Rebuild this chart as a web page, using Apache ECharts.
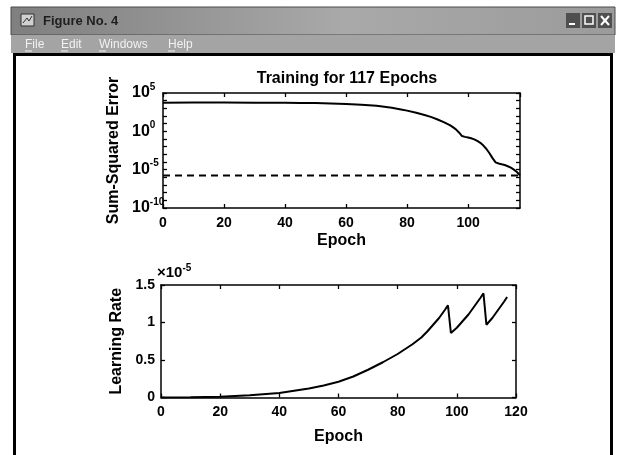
<!DOCTYPE html>
<html>
<head>
<meta charset="utf-8">
<script src="https://cdn.jsdelivr.net/npm/echarts@6/dist/echarts.min.js"></script>
<style>
  html, body { margin: 0; padding: 0; background: #ffffff; }
  #chart { width: 617px; height: 455px; }
</style>
</head>
<body>
<div id="chart"></div>
<script>
const FONT = '"Liberation Sans", Arial, Helvetica, sans-serif';

// Sum-squared error per epoch
const errEpochs = [0, 10, 20, 30, 40, 45, 50, 55, 60, 65, 70, 75, 78, 80, 83, 86, 88, 90, 92, 94,
                   95, 96, 97, 98, 99, 100, 101, 102, 103, 104, 105, 106, 107, 108, 109, 110, 111,
                   112, 113, 114, 115, 116, 117];
const errValues = [5.5e3, 5.6e3, 5.6e3, 5.5e3, 5.2e3, 5.1e3, 4.8e3, 4.4e3, 3.8e3, 3.0e3, 2.1e3, 1.2e3,
                   7.1e2, 5.0e2, 2.6e2, 1.26e2, 72, 35, 16, 6.3, 3.5, 1.8, 0.71, 0.24, 0.19, 0.16,
                   0.126, 0.089, 0.056, 0.032, 0.014, 5.0e-3, 1.4e-3, 3.2e-4, 8.9e-5, 6.3e-5, 5.0e-5,
                   4.0e-5, 2.8e-5, 1.8e-5, 1.0e-5, 5.0e-6, 1.8e-6];
const errGoal = 1.7e-6;
const errGoalEpochs = [0, 117];

// Learning rate per epoch, in units of 1e-5
const lrEpochs = [0, 10, 20, 30, 40, 50, 55, 60, 65, 70, 75, 80, 85, 88, 90, 92, 94, 96, 97, 98,
                  100, 102, 104, 106, 108, 109, 110, 112, 114, 116, 117];
const lrValues = [0, 0.003, 0.01, 0.03, 0.06, 0.12, 0.16, 0.21, 0.28, 0.37, 0.47, 0.58, 0.71, 0.80,
                  0.88, 0.97, 1.06, 1.17, 1.23, 0.86, 0.93, 1.02, 1.11, 1.22, 1.33, 1.39, 0.97, 1.06,
                  1.17, 1.28, 1.34];

// Axis ranges and tick labels
const errXMax = 117;
const lrXMax = 120;
const errLabelExponents = [-10, -5, 0, 5];
const lrTickLabels = ['0', '0.5', '1', '1.5'];

const chartTitle = 'Training for 117 Epochs';
const windowTitle = 'Figure No. 4';
const menuItems = [['File', 25], ['Edit', 61], ['Windows', 99], ['Help', 168]];

const zip = (xs, ys) => xs.map((x, i) => [x, ys[i]]);

const axisLineStyle = { color: '#000', width: 1.5 };
const tickStyle = { show: true, inside: true, length: 4, lineStyle: { color: '#000', width: 1.3 } };
const tickLabelStyle = { color: '#000', fontFamily: FONT, fontSize: 14, fontWeight: 'bold' };
const nameStyle = { color: '#000', fontFamily: FONT, fontSize: 16, fontWeight: 'bold' };

function xPair(grid, max, nameGap) {
  const base = {
    gridIndex: grid, type: 'value', min: 0, max: max, interval: 20,
    axisLine: { show: true, onZero: false, lineStyle: axisLineStyle },
    axisTick: tickStyle, splitLine: { show: false }
  };
  return [
    Object.assign({}, base, {
      position: 'bottom',
      axisLabel: Object.assign({ margin: 8, showMaxLabel: max % 20 === 0 }, tickLabelStyle),
      name: 'Epoch', nameLocation: 'middle', nameGap: nameGap, nameTextStyle: nameStyle
    }),
    Object.assign({}, base, { position: 'top', axisLabel: { show: false } })
  ];
}

const logLabel = v => {
  const e = Math.round(Math.log10(v));
  return errLabelExponents.indexOf(e) >= 0 ? '{b|10}{s|' + e + '}' : '';
};

const errY = {
  gridIndex: 0, type: 'log', logBase: 10, min: 1e-10, max: 1e5, interval: 1,
  axisLine: { show: true, onZero: false, lineStyle: axisLineStyle },
  axisTick: tickStyle, splitLine: { show: false }
};

const lrY = {
  gridIndex: 1, type: 'value', min: 0, max: 1.5, interval: 0.5,
  axisLine: { show: true, onZero: false, lineStyle: axisLineStyle },
  axisTick: tickStyle, splitLine: { show: false }
};

const option = {
  animation: false,
  backgroundColor: '#ffffff',
  title: {
    text: chartTitle, left: 342, top: 66, textAlign: 'center',
    textStyle: { color: '#000', fontFamily: FONT, fontSize: 16, fontWeight: 'bold' }
  },
  grid: [
    { left: 163, top: 93, width: 357, height: 115 },
    { left: 161, top: 285, width: 355, height: 112.5 }
  ],
  xAxis: [].concat(xPair(0, errXMax, 25), xPair(1, lrXMax, 31)),
  yAxis: [
    Object.assign({}, errY, {
      position: 'left',
      axisLabel: {
        margin: 31, align: 'left', formatter: logLabel,
        rich: {
          b: { color: '#000', fontFamily: FONT, fontSize: 16, fontWeight: 'bold' },
          s: { color: '#000', fontFamily: FONT, fontSize: 10, fontWeight: 'bold', padding: [0, 0, 12, 0] }
        }
      },
      name: 'Sum-Squared Error', nameLocation: 'middle', nameGap: 34, nameTextStyle: nameStyle
    }),
    Object.assign({}, errY, { position: 'right', axisLabel: { show: false } }),
    Object.assign({}, lrY, {
      position: 'left',
      axisLabel: Object.assign({
        margin: 6,
        formatter: v => lrTickLabels[Math.round(v / 0.5)]
      }, tickLabelStyle),
      name: 'Learning Rate', nameLocation: 'middle', nameGap: 36, nameTextStyle: nameStyle
    }),
    Object.assign({}, lrY, { position: 'right', axisLabel: { show: false } })
  ],
  series: [
    {
      type: 'line', xAxisIndex: 0, yAxisIndex: 0, data: zip(errEpochs, errValues),
      symbol: 'none', lineStyle: { color: '#000', width: 2 }, z: 5
    },
    {
      type: 'line', xAxisIndex: 0, yAxisIndex: 0,
      data: errGoalEpochs.map(x => [x, errGoal]),
      symbol: 'none', lineStyle: { color: '#000', width: 2, type: [7, 5] }, z: 4
    },
    {
      type: 'line', xAxisIndex: 2, yAxisIndex: 2, data: zip(lrEpochs, lrValues),
      symbol: 'none', lineStyle: { color: '#000', width: 2 }, z: 5
    }
  ],
  graphic: [
    // window title bar
    {
      type: 'rect', shape: { x: 11, y: 7, width: 604, height: 28 }, z: -10,
      style: {
        fill: new echarts.graphic.LinearGradient(0, 0, 1, 0, [
          { offset: 0, color: '#7f7f7f' }, { offset: 0.55, color: '#a9a9a9' }, { offset: 1, color: '#9b9b9b' }
        ]),
        stroke: '#4a4a4a', lineWidth: 1
      }
    },
    // menu bar
    { type: 'rect', shape: { x: 11, y: 35, width: 604, height: 18 }, z: -10, style: { fill: '#a4a4a4' } },
    // figure body
    {
      type: 'rect', shape: { x: 14.5, y: 54.5, width: 597, height: 420 }, z: -9,
      style: { fill: '#ffffff', stroke: '#000', lineWidth: 3 }
    },
    // window icon
    { type: 'rect', shape: { x: 21, y: 14, width: 13, height: 12 }, style: { fill: '#d0d0d0', stroke: '#333', lineWidth: 1 } },
    { type: 'polyline', shape: { points: [[23, 23], [27, 18], [29, 21], [32, 16]] }, style: { stroke: '#333', lineWidth: 1, fill: null } },
    {
      type: 'text', x: 43, y: 21,
      style: { text: windowTitle, fill: '#1e1e1e', font: 'bold 13px ' + FONT, verticalAlign: 'middle' }
    },
    // title bar buttons
    { type: 'rect', shape: { x: 566, y: 13, width: 14, height: 15 }, style: { fill: '#4f4f4f' } },
    { type: 'rect', shape: { x: 582, y: 13, width: 14, height: 15 }, style: { fill: '#4f4f4f' } },
    { type: 'rect', shape: { x: 598, y: 13, width: 14, height: 15 }, style: { fill: '#4f4f4f' } },
    { type: 'line', shape: { x1: 569, y1: 24, x2: 575, y2: 24 }, style: { stroke: '#fff', lineWidth: 2 } },
    { type: 'rect', shape: { x: 585, y: 16, width: 8, height: 8 }, style: { fill: null, stroke: '#fff', lineWidth: 1.5 } },
    { type: 'line', shape: { x1: 601, y1: 16, x2: 609, y2: 25 }, style: { stroke: '#fff', lineWidth: 2 } },
    { type: 'line', shape: { x1: 609, y1: 16, x2: 601, y2: 25 }, style: { stroke: '#fff', lineWidth: 2 } },
    // menu entries
    ...menuItems.map(([label, x]) => ({
      type: 'text', x: x, y: 45,
      style: { text: label, fill: '#f2f2f2', font: '12px ' + FONT, verticalAlign: 'middle' }
    })),
    ...menuItems.map(([label, x]) => ({
      type: 'line', shape: { x1: x, y1: 51, x2: x + 7, y2: 51 },
      style: { stroke: '#f2f2f2', lineWidth: 1 }
    })),
    // exponent of the learning-rate axis
    {
      type: 'text', x: 157, y: 273,
      style: {
        text: '{m|×10}{s|-5}', verticalAlign: 'middle',
        rich: {
          m: { fill: '#000', font: 'bold 15px ' + FONT },
          s: { fill: '#000', font: 'bold 10px ' + FONT, padding: [0, 0, 10, 0] }
        }
      }
    }
  ]
};

const chart = echarts.init(document.getElementById('chart'), null, { renderer: 'canvas' });
chart.setOption(option);
</script>
</body>
</html>
